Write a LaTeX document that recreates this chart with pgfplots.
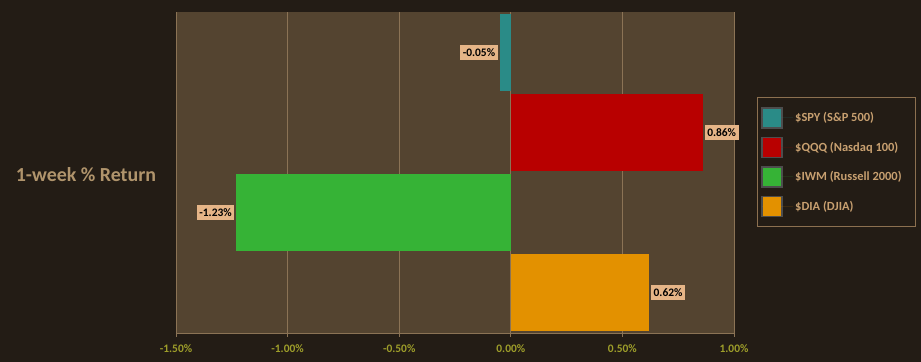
\documentclass[border=0pt]{standalone}
\usepackage{pgfplots}
\pgfplotsset{compat=1.18}
\usepackage{fontspec}
\setmainfont{Carlito}
\definecolor{bgc}{HTML}{231C15}
\definecolor{plotbg}{HTML}{544430}
\definecolor{gridc}{HTML}{8B7355}
\definecolor{tealc}{HTML}{2A8B87}
\definecolor{redc}{HTML}{B80000}
\definecolor{greenc}{HTML}{36B336}
\definecolor{orangec}{HTML}{E39100}
\definecolor{tickc}{HTML}{9E9E2A}
\definecolor{labc}{HTML}{E6B587}
\definecolor{legb}{HTML}{8C7050}
\definecolor{ylabc}{HTML}{B0946C}
\definecolor{legtext}{HTML}{C8A070}
\definecolor{swb}{HTML}{4D4D4D}
\begin{document}
\begin{tikzpicture}
\fill[bgc] (0bp,0bp) rectangle (921bp,362bp);
\node[text=ylabc, font=\fontsize{20}{23}\selectfont\bfseries] at (86bp,187bp) {1-week \% Return};
\begin{axis}[
  at={(176bp,29bp)}, anchor=south west,
  scale only axis, width=558bp, height=321bp,
  xmin=-1.5, xmax=1.0, ymin=-0.5, ymax=3.5,
  xbar, bar width=0.96,
  axis background/.style={fill=plotbg},
  axis x line=bottom, axis y line=none,
  x axis line style={-, draw=gridc, line width=0.8bp},
  xtick={-1.5,-1,-0.5,0,0.5,1},
  xticklabels={-1.50\%,-1.00\%,-0.50\%,0.00\%,0.50\%,1.00\%},
  xticklabel style={font=\fontsize{11.5}{13}\selectfont\bfseries, text=tickc, yshift=-4bp},
  ytick=\empty,
  tick align=outside, major tick length=4bp,
  x tick style={draw=gridc, line width=0.8bp},
  xmajorgrids, grid style={draw=gridc, line width=0.8bp},
  point meta=explicit symbolic,
  nodes near coords,
  every node near coord/.style={font=\fontsize{11.5}{13}\selectfont\bfseries, text=black, fill=labc, inner xsep=2.5bp, inner ysep=3.5bp, outer sep=2bp},
  legend style={at={(1,1)}, anchor=north west, xshift=23bp, yshift=-85bp,
    fill=bgc, draw=legb, line width=0.8bp, text=legtext,
    font=\fontsize{12.5}{14}\selectfont\bfseries,
    inner xsep=4bp, inner ysep=9.5bp, row sep=8bp},
  legend cell align=left,
]
\addplot[xbar, bar shift=0pt, fill=tealc, draw=none, every node near coord/.append style={anchor=east},
  legend image code/.code={\draw[fill=tealc,draw=swb,line width=1.6bp] (0bp,-10bp) rectangle (20bp,10bp);\path (0bp,0bp) -- (31bp,0bp);}]
  coordinates {(-0.05,3) [-0.05\%]};
\addlegendentry{\$SPY (S\&P 500)\hspace*{8bp}}
\addplot[xbar, bar shift=0pt, fill=redc, draw=none, every node near coord/.append style={anchor=west},
  legend image code/.code={\draw[fill=redc,draw=swb,line width=1.6bp] (0bp,-10bp) rectangle (20bp,10bp);\path (0bp,0bp) -- (31bp,0bp);}]
  coordinates {(0.86,2) [0.86\%]};
\addlegendentry{\$QQQ (Nasdaq 100)\hspace*{8bp}}
\addplot[xbar, bar shift=0pt, fill=greenc, draw=none, every node near coord/.append style={anchor=east},
  legend image code/.code={\draw[fill=greenc,draw=swb,line width=1.6bp] (0bp,-10bp) rectangle (20bp,10bp);\path (0bp,0bp) -- (31bp,0bp);}]
  coordinates {(-1.23,1) [-1.23\%]};
\addlegendentry{\$IWM (Russell 2000)\hspace*{8bp}}
\addplot[xbar, bar shift=0pt, fill=orangec, draw=none, every node near coord/.append style={anchor=west},
  legend image code/.code={\draw[fill=orangec,draw=swb,line width=1.6bp] (0bp,-10bp) rectangle (20bp,10bp);\path (0bp,0bp) -- (31bp,0bp);}]
  coordinates {(0.62,0) [0.62\%]};
\addlegendentry{\$DIA (DJIA)\hspace*{8bp}}
\end{axis}
\end{tikzpicture}
\end{document}
